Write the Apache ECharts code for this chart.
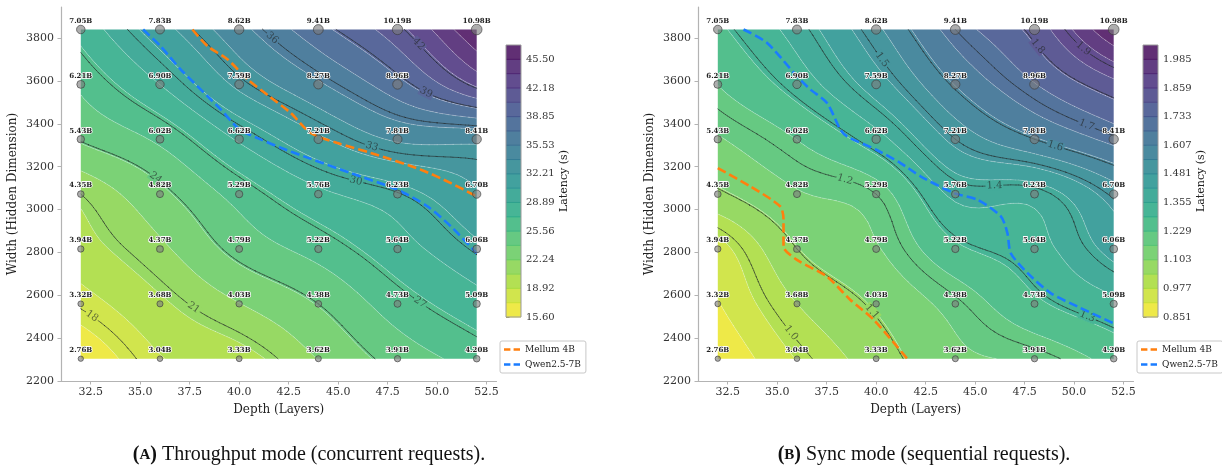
<!DOCTYPE html>
<html>
<head>
<meta charset="utf-8">
<title>Latency contours</title>
<script src="https://cdn.jsdelivr.net/npm/echarts@6/dist/echarts.min.js"></script>
<style>
  html, body { margin: 0; padding: 0; background: #fff; }
  #main { width: 1222px; height: 468px; }
</style>
</head>
<body>
<div id="main"></div>
<script>
// model grid: depth (layers) x width (hidden dim)
var depths = [32, 36, 40, 44, 48, 52];
var widths = [2304, 2560, 2816, 3072, 3328, 3584, 3840];

// parameter count per grid point, rows go from width 2304 up to 3840
var paramLabels = [
  ['2.76B', '3.04B', '3.33B', '3.62B', '3.91B', '4.20B'],
  ['3.32B', '3.68B', '4.03B', '4.38B', '4.73B', '5.09B'],
  ['3.94B', '4.37B', '4.79B', '5.22B', '5.64B', '6.06B'],
  ['4.35B', '4.82B', '5.29B', '5.76B', '6.23B', '6.70B'],
  ['5.43B', '6.02B', '6.62B', '7.21B', '7.81B', '8.41B'],
  ['6.21B', '6.90B', '7.59B', '8.27B', '8.96B', null],
  ['7.05B', '7.83B', '8.62B', '9.41B', '10.19B', '10.98B']
];

// latency in seconds, same layout
var latencyThroughput = [
  [15.60, 18.8, 19.9, 22.3, 24.6, 26.2],
  [18.2, 20.3, 22.2, 24.0, 26.4, 28.2],
  [19.9, 21.9, 24.5, 26.2, 28.2, 30.2],
  [21.0, 23.5, 26.2, 28.5, 29.9, 32.0],
  [24.1, 25.9, 29.1, 31.9, 34.1, 34.3],
  [25.9, 28.9, 32.6, 35.3, 38.3, 42.5],
  [27.8, 31.5, 35.0, 38.3, 41.6, 47.16]
];
var latencySync = [
  [0.851, 0.98, 1.07, 1.15, 1.18, 1.25],
  [0.91, 1.04, 1.11, 1.19, 1.28, 1.34],
  [0.95, 1.10, 1.16, 1.28, 1.33, 1.44],
  [1.09, 1.16, 1.20, 1.37, 1.38, 1.51],
  [1.16, 1.23, 1.33, 1.50, 1.60, 1.69],
  [1.23, 1.32, 1.45, 1.61, 1.73, 1.84],
  [1.28, 1.38, 1.53, 1.70, 1.82, 2.048]
];

// labelled contour levels
var linesThroughput = [18, 21, 24, 27, 30, 33, 36, 39, 42];
var linesSync = [1.0, 1.1, 1.2, 1.3, 1.4, 1.5, 1.6, 1.7, 1.8, 1.9];
// where the inline labels sit: [level, depth, width]
var labelsThroughput = [[18, 32.6, 2508], [21, 37.8, 2555], [24, 35.9, 3162], [27, 49.1, 2563],
  [30, 45.9, 3134], [33, 46.6, 3264], [36, 41.65, 3798], [39, 49.4, 3536], [42, 49.3, 3793]];
var labelsSync = [[1.0, 35.66, 2422], [1.1, 39.88, 2531], [1.2, 38.36, 3123], [1.3, 50.5, 2461],
  [1.4, 45.96, 3131], [1.5, 40.3, 3700], [1.6, 49.08, 3307], [1.7, 50.6, 3388], [1.8, 48.41, 3778], [1.9, 50.94, 3801]];

// reference models (iso-latency curves)
var mellumThroughput = [[37.64, 3840], [38.41, 3762], [39.42, 3700], [40.44, 3606], [41.5, 3530], [42.6, 3451],
  [43.61, 3357], [44.96, 3310], [46.65, 3264], [49.18, 3186], [50.7, 3123], [52, 3061]];
var qwenThroughput = [[35.15, 3840], [36.03, 3762], [37.05, 3653], [38.41, 3528], [39.08, 3466], [40.03, 3373],
  [41.12, 3326], [42.14, 3287], [43.27, 3248], [45.64, 3170], [48.0, 3092], [49.52, 3014], [50.7, 2921], [52, 2796]];
var mellumSync = [[32, 3193], [33.64, 3108], [35.16, 3014], [35.32, 2952], [35.32, 2827], [36.0, 2765],
  [37.52, 2687], [38.7, 2578], [39.88, 2485], [41.57, 2304]];
var qwenSync = [[33.3, 3840], [34.48, 3778], [36.0, 3622], [36.68, 3560], [37.52, 3497], [38.19, 3373],
  [38.53, 3341], [40.0, 3279], [41.23, 3217], [42.24, 3155], [43.93, 3077], [45.11, 3046], [46.3, 2968],
  [46.63, 2890], [46.8, 2796], [47.65, 2703], [48.83, 2609], [50.18, 2547], [52, 2469]];

var xTicks = [32.5, 35.0, 37.5, 40.0, 42.5, 45.0, 47.5, 50.0, 52.5];
var yTicks = [2200, 2400, 2600, 2800, 3000, 3200, 3400, 3600, 3800];
var cbarTicksThroughput = [15.60, 18.92, 22.24, 25.56, 28.89, 32.21, 35.53, 38.85, 42.18, 45.50];
var cbarTicksSync = [0.851, 0.977, 1.103, 1.229, 1.355, 1.481, 1.607, 1.733, 1.859, 1.985];

var FONT = "'DejaVu Serif', serif";
var NLEV = 20, SUB = 10;
var VIR = ['#440154', '#472c7a', '#3b518b', '#2c718e', '#21908d', '#27ad81', '#5cc863', '#aadc32', '#fde725'];
// two short dashes for the legend icons
var DASH_ICON = 'path://M0,0H8V3H0Z M12,0H20V3H12Z';

function hex(c) { return [parseInt(c.substr(1, 2), 16), parseInt(c.substr(3, 2), 16), parseInt(c.substr(5, 2), 16)]; }
function viridis(t, alpha) {
  t = Math.max(0, Math.min(1, t));
  var s = t * 8, i = Math.min(7, Math.floor(s)), r = s - i;
  var a = hex(VIR[i]), b = hex(VIR[i + 1]);
  var out = [0, 1, 2].map(function (j) {
    var v = a[j] + (b[j] - a[j]) * r;
    return Math.round(v * alpha + 255 * (1 - alpha));
  });
  return 'rgb(' + out.join(',') + ')';
}
function bandColor(k) { return viridis(1 - (k + 0.5) / (NLEV - 1), 0.85); }
function seamColor(k) { return viridis(1 - (k + 0.5) / (NLEV - 1), 0.98); }

// smooth surface through the grid values (catmull-rom)
function makeField(vals) {
  var nx = depths.length, ny = widths.length;
  function g(i, j) {
    if (i < 0) return 2 * g(0, j) - g(1, j);
    if (i > nx - 1) return 2 * g(nx - 1, j) - g(nx - 2, j);
    if (j < 0) return 2 * g(i, 0) - g(i, 1);
    if (j > ny - 1) return 2 * g(i, ny - 1) - g(i, ny - 2);
    return vals[j][i];
  }
  function cr(p0, p1, p2, p3, t) {
    return 0.5 * (2 * p1 + (p2 - p0) * t + (2 * p0 - 5 * p1 + 4 * p2 - p3) * t * t + (3 * p1 - p0 - 3 * p2 + p3) * t * t * t);
  }
  return function (u, v) {
    var i = Math.min(nx - 2, Math.max(0, Math.floor(u))), j = Math.min(ny - 2, Math.max(0, Math.floor(v)));
    var tu = u - i, tv = v - j, col = [];
    for (var m = -1; m <= 2; m++) {
      col.push(cr(g(i - 1, j + m), g(i, j + m), g(i + 1, j + m), g(i + 2, j + m), tu));
    }
    return cr(col[0], col[1], col[2], col[3], tv);
  };
}

function clipPoly(poly, t, above) {
  var out = [];
  for (var i = 0; i < poly.length; i++) {
    var a = poly[i], b = poly[(i + 1) % poly.length];
    var ina = above ? a.v >= t : a.v <= t, inb = above ? b.v >= t : b.v <= t;
    if (ina) out.push(a);
    if (ina !== inb) {
      var r = (t - a.v) / (b.v - a.v);
      out.push({ x: a.x + r * (b.x - a.x), y: a.y + r * (b.y - a.y), v: t });
    }
  }
  return out;
}
function crossSeg(tri, t, list) {
  var pts = [];
  for (var i = 0; i < 3; i++) {
    var a = tri[i], b = tri[(i + 1) % 3];
    if ((a.v >= t) !== (b.v >= t)) {
      var r = (t - a.v) / (b.v - a.v);
      pts.push(a.x + r * (b.x - a.x), a.y + r * (b.y - a.y));
    }
  }
  if (pts.length === 4) list.push(pts);
}

function buildContour(vals, lineLevels) {
  var flat = [].concat.apply([], vals);
  var lo = Math.min.apply(null, flat), hi = Math.max.apply(null, flat);
  var levels = [];
  for (var k = 0; k < NLEV; k++) levels.push(lo + (hi - lo) * k / (NLEV - 1));
  var f = makeField(vals);
  var nu = (depths.length - 1) * SUB, nv = (widths.length - 1) * SUB;
  var dx = depths[1] - depths[0], dy = widths[1] - widths[0];
  var G = [];
  for (var a = 0; a <= nu; a++) {
    G[a] = [];
    for (var b = 0; b <= nv; b++) G[a][b] = Math.min(hi, Math.max(lo, f(a / SUB, b / SUB)));
  }
  function pt(a, b) { return { x: depths[0] + a / SUB * dx, y: widths[0] + b / SUB * dy, v: G[a][b] }; }
  var bands = [], thin = [], dark = [];
  for (k = 0; k < NLEV - 1; k++) bands.push([]);
  lineLevels.forEach(function () { dark.push([]); });
  for (a = 0; a < nu; a++) {
    for (b = 0; b < nv; b++) {
      var p00 = pt(a, b), p10 = pt(a + 1, b), p11 = pt(a + 1, b + 1), p01 = pt(a, b + 1);
      [[p00, p10, p11], [p00, p11, p01]].forEach(function (tri) {
        var vmin = Math.min(tri[0].v, tri[1].v, tri[2].v), vmax = Math.max(tri[0].v, tri[1].v, tri[2].v);
        for (var k = 0; k < NLEV - 1; k++) {
          var l0 = levels[k], l1 = levels[k + 1];
          if (vmax < l0 || vmin > l1) continue;
          var poly = tri;
          if (vmin < l0) poly = clipPoly(poly, l0, true);
          if (vmax > l1 && poly.length) poly = clipPoly(poly, l1, false);
          if (poly.length >= 3) {
            var fl = [];
            poly.forEach(function (p) { fl.push(p.x, p.y); });
            bands[k].push(fl);
          }
        }
        for (k = 1; k < NLEV - 1; k++) crossSeg(tri, levels[k], thin);
        lineLevels.forEach(function (t, i) { crossSeg(tri, t, dark[i]); });
      });
    }
  }
  return { lo: lo, hi: hi, levels: levels, bands: bands, thin: thin, dark: dark, f: f };
}

function segPath(segs, api) {
  var d = '';
  segs.forEach(function (s) {
    var p = api.coord([s[0], s[1]]), q = api.coord([s[2], s[3]]);
    d += 'M' + p[0].toFixed(2) + ' ' + p[1].toFixed(2) + 'L' + q[0].toFixed(2) + ' ' + q[1].toFixed(2);
  });
  return d;
}

function panelSeries(c, p) {
  var gx = p.grid * 2, gc = p.grid * 2 + 1;
  var dx = depths[1] - depths[0], dy = widths[1] - widths[0];
  var fill = {
    type: 'custom', xAxisIndex: gx, yAxisIndex: gx, silent: true, clip: true,
    data: c.bands.map(function (_, k) { return [depths[0], widths[0], k]; }),
    encode: { x: 0, y: 1 },
    renderItem: function (params, api) {
      var k = api.value(2), d = '';
      c.bands[k].forEach(function (poly) {
        for (var i = 0; i < poly.length; i += 2) {
          var q = api.coord([poly[i], poly[i + 1]]);
          d += (i ? 'L' : 'M') + q[0].toFixed(2) + ' ' + q[1].toFixed(2);
        }
        d += 'Z';
      });
      return { type: 'path', shape: { pathData: d }, style: { fill: bandColor(k) } };
    }
  };
  var lines = {
    type: 'custom', xAxisIndex: gx, yAxisIndex: gx, silent: true, clip: true,
    data: [[depths[0], widths[0]]],
    encode: { x: 0, y: 1 },
    renderItem: function (params, api) {
      var ch = [{ type: 'path', shape: { pathData: segPath(c.thin, api) },
        style: { fill: null, stroke: 'rgba(255,255,255,0.32)', lineWidth: 0.6, lineCap: 'round' } }];
      c.dark.forEach(function (segs) {
        ch.push({ type: 'path', shape: { pathData: segPath(segs, api) },
          style: { fill: null, stroke: 'rgba(35,40,40,0.6)', lineWidth: 1, lineCap: 'round' } });
      });
      var o = api.coord([depths[0], widths[0]]);
      var ppu = (api.coord([depths[0] + 1, widths[0]])[0] - o[0]) * dx;
      var ppv = (o[1] - api.coord([depths[0], widths[0] + 1])[1]) * dy;
      p.labels.forEach(function (lab) {
        var li = p.lines.indexOf(lab[0]);
        var T = api.coord([lab[1], lab[2]]), best = null;
        c.dark[li].forEach(function (s) {
          var a = api.coord([s[0], s[1]]), b = api.coord([s[2], s[3]]);
          var vx = b[0] - a[0], vy = b[1] - a[1], L2 = vx * vx + vy * vy || 1;
          var r = Math.max(0, Math.min(1, ((T[0] - a[0]) * vx + (T[1] - a[1]) * vy) / L2));
          var px = a[0] + r * vx, py = a[1] + r * vy, dd = (px - T[0]) * (px - T[0]) + (py - T[1]) * (py - T[1]);
          if (!best || dd < best.d) best = { d: dd, px: px, py: py, x: s[0] + r * (s[2] - s[0]), y: s[1] + r * (s[3] - s[1]) };
        });
        if (!best) return;
        var u = (best.x - depths[0]) / dx, v = (best.y - widths[0]) / dy, h = 0.2;
        var gu = (c.f(u + h, v) - c.f(u - h, v)) / (2 * h) / ppu;
        var gv = -(c.f(u, v + h) - c.f(u, v - h)) / (2 * h) / ppv;
        var ang = Math.atan2(-gu, -gv);
        if (ang > Math.PI / 2) ang -= Math.PI;
        if (ang < -Math.PI / 2) ang += Math.PI;
        var kk = Math.min(NLEV - 2, Math.floor((lab[0] - c.lo) / (c.hi - c.lo) * (NLEV - 1)));
        ch.push({ type: 'text', x: best.px, y: best.py, rotation: ang,
          style: { text: p.fmt(lab[0]), font: '10px ' + FONT, fill: 'rgba(35,40,40,0.65)',
            align: 'center', verticalAlign: 'middle', backgroundColor: bandColor(kk), padding: [0, 1] } });
      });
      return { type: 'group', children: ch };
    }
  };
  function dashed(name, pts, color) {
    return { type: 'line', name: name, xAxisIndex: gx, yAxisIndex: gx, data: pts, symbol: 'none', smooth: 0.25,
      lineStyle: { color: color, width: 2.6, type: [9, 4] }, itemStyle: { color: color }, z: 4 };
  }
  var pts = [];
  widths.forEach(function (w, j) {
    depths.forEach(function (d, i) {
      if (paramLabels[j][i]) pts.push([d, w, parseFloat(paramLabels[j][i]), paramLabels[j][i]]);
    });
  });
  var scatter = {
    type: 'scatter', xAxisIndex: gx, yAxisIndex: gx, data: pts, z: 5, clip: false, silent: true,
    symbolSize: function (d) { return 3.2 * Math.sqrt(d[2]); },
    itemStyle: { color: 'rgba(125,125,125,0.62)', borderColor: 'rgba(60,60,60,0.65)', borderWidth: 1, opacity: 1 },
    label: { show: true, position: 'inside', offset: [0, -8.5], formatter: function (q) { return q.data[3]; },
      fontFamily: FONT, fontSize: 7, fontWeight: 'bold', color: '#222', textBorderColor: '#fff', textBorderWidth: 1.6 }
  };
  var cbar = {
    type: 'custom', xAxisIndex: gc, yAxisIndex: gc, silent: true,
    data: [[0, c.lo]], encode: { x: 0, y: 1 },
    renderItem: function (params, api) {
      var ch = [];
      for (var k = 0; k < NLEV - 1; k++) {
        var a = api.coord([0, c.levels[k]]), b = api.coord([1, c.levels[k + 1]]);
        ch.push({ type: 'rect', shape: { x: a[0], y: b[1], width: b[0] - a[0], height: a[1] - b[1] + 0.5 }, style: { fill: bandColor(k) } });
      }
      for (k = 1; k < NLEV - 1; k++) {
        var l = api.coord([0, c.levels[k]]), r = api.coord([1, c.levels[k]]);
        ch.push({ type: 'line', shape: { x1: l[0], y1: l[1], x2: r[0], y2: r[1] }, style: { stroke: seamColor(k), lineWidth: 0.8 } });
      }
      var tl = api.coord([0, c.hi]), br = api.coord([1, c.lo]);
      ch.push({ type: 'rect', shape: { x: tl[0], y: tl[1], width: br[0] - tl[0], height: br[1] - tl[1] },
        style: { fill: null, stroke: '#9a9a9a', lineWidth: 1 } });
      return { type: 'group', children: ch };
    }
  };
  return [fill, lines, dashed('Mellum 4B', p.mellum, '#ff7f0e'), dashed('Qwen2.5-7B', p.qwen, '#1a7cff'), scatter, cbar];
}

var panels = [
  { grid: 0, vals: latencyThroughput, lines: linesThroughput, labels: labelsThroughput, mellum: mellumThroughput,
    qwen: qwenThroughput, ticks: cbarTicksThroughput, digits: 2, left: 61, cbarLeft: 506,
    fmt: function (v) { return String(v); } },
  { grid: 1, vals: latencySync, lines: linesSync, labels: labelsSync, mellum: mellumSync,
    qwen: qwenSync, ticks: cbarTicksSync, digits: 3, left: 698, cbarLeft: 1143,
    fmt: function (v) { return v.toFixed(1); } }
];

var grids = [], xAxes = [], yAxes = [], series = [], legends = [];
var axisGray = '#b3b3b3';
panels.forEach(function (p) {
  var c = buildContour(p.vals, p.lines);
  grids.push({ left: p.left, top: 7, width: 435.5, height: 374 });
  grids.push({ left: p.cbarLeft, top: 45, width: 15, height: 272 });
  xAxes.push({
    type: 'value', gridIndex: p.grid * 2, min: 31, max: 53, name: 'Depth (Layers)', nameLocation: 'middle', nameGap: 23,
    nameTextStyle: { fontFamily: FONT, fontSize: 12, color: '#222' },
    axisLine: { lineStyle: { color: axisGray, width: 1.2 } },
    axisTick: { length: 3.5, lineStyle: { color: axisGray }, customValues: xTicks },
    axisLabel: { customValues: xTicks, margin: 6, fontFamily: FONT, fontSize: 11, color: '#333',
      formatter: function (v) { return v.toFixed(1); } },
    splitLine: { show: false }
  });
  xAxes.push({ type: 'value', gridIndex: p.grid * 2 + 1, min: 0, max: 1, show: false });
  yAxes.push({
    type: 'value', gridIndex: p.grid * 2, min: 2200, max: 3945, name: 'Width (Hidden Dimension)', nameLocation: 'middle',
    nameGap: 42, nameTextStyle: { fontFamily: FONT, fontSize: 12, color: '#222' },
    axisLine: { show: true, lineStyle: { color: axisGray, width: 1.2 } },
    axisTick: { show: true, length: 3.5, lineStyle: { color: axisGray }, customValues: yTicks },
    axisLabel: { customValues: yTicks, margin: 7, fontFamily: FONT, fontSize: 11, color: '#333',
      formatter: function (v) { return String(v); } },
    splitLine: { show: false }
  });
  yAxes.push({
    type: 'value', gridIndex: p.grid * 2 + 1, min: c.lo, max: c.hi, position: 'right',
    name: 'Latency (s)', nameLocation: 'middle', nameGap: 32, nameRotate: 90,
    nameTextStyle: { fontFamily: FONT, fontSize: 11, color: '#222' },
    axisLine: { show: false },
    axisTick: { show: true, length: 3.5, lineStyle: { color: '#666' }, customValues: p.ticks },
    axisLabel: { customValues: p.ticks, margin: 5, fontFamily: FONT, fontSize: 10, color: '#333',
      formatter: function (v) { return v.toFixed(p.digits); } },
    splitLine: { show: false }
  });
  series = series.concat(panelSeries(c, p));
  legends.push({
    left: p.cbarLeft - 6, top: 341, orient: 'vertical',
    data: [{ name: 'Mellum 4B', icon: DASH_ICON }, { name: 'Qwen2.5-7B', icon: DASH_ICON }],
    itemWidth: 16, itemHeight: 3, itemGap: 6, padding: [4, 5, 4, 4],
    borderColor: '#c8c8c8', borderWidth: 1, borderRadius: 2, backgroundColor: '#fff',
    textStyle: { fontFamily: FONT, fontSize: 9, color: '#222' }, selectedMode: false
  });
});

var captions = [
  { x: 309, tag: 'A', text: ' Throughput mode (concurrent requests).' },
  { x: 924, tag: 'B', text: ' Sync mode (sequential requests).' }
];

var option = {
  animation: false,
  backgroundColor: '#fff',
  grid: grids,
  xAxis: xAxes,
  yAxis: yAxes,
  legend: legends,
  series: series,
  graphic: captions.map(function (cp) {
    return {
      type: 'text', x: cp.x, y: 455,
      style: {
        text: '{p|(}{s|' + cp.tag + '}{p|)}{n|' + cp.text + '}',
        align: 'center', verticalAlign: 'middle',
        rich: {
          p: { fontFamily: 'Liberation Serif', fontSize: 20, fontWeight: 'bold', fill: '#111' },
          s: { fontFamily: 'Liberation Serif', fontSize: 15, fontWeight: 'bold', fill: '#111' },
          n: { fontFamily: 'Liberation Serif', fontSize: 20, fill: '#111' }
        }
      }
    };
  })
};

var chart = echarts.init(document.getElementById('main'));
chart.setOption(option);
</script>
</body>
</html>
